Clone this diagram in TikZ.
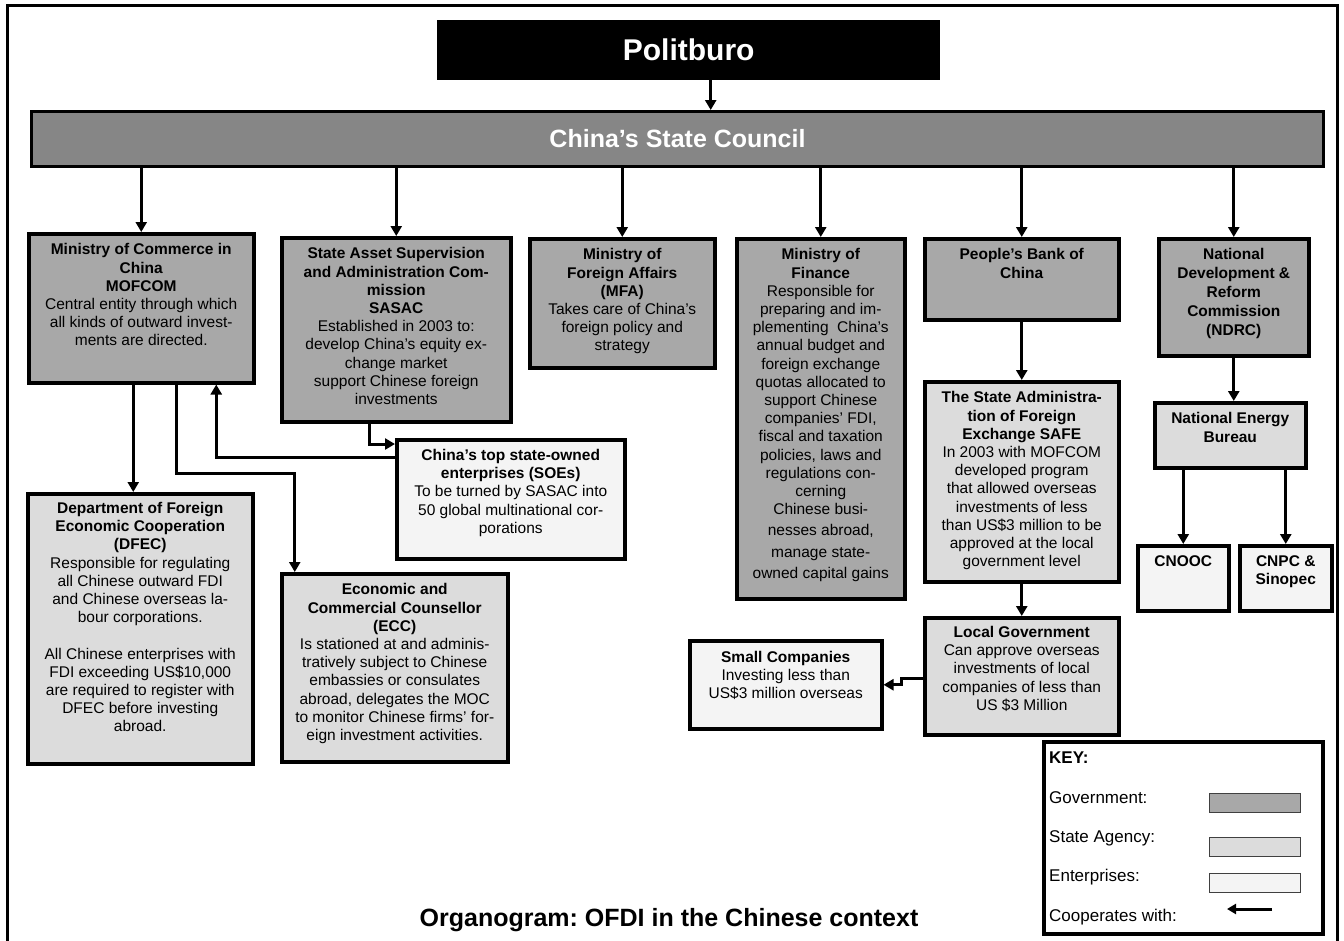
\documentclass[tikz,border=0pt]{standalone}
\usepackage{fontspec}
\setmainfont{Liberation Sans}
\usetikzlibrary{arrows.meta,positioning}
\frenchspacing
\definecolor{govgray}{RGB}{168,168,168}
\definecolor{councilgray}{RGB}{134,134,134}
\definecolor{agencygray}{RGB}{220,220,220}
\definecolor{firmgray}{RGB}{244,244,244}
\tikzset{
  gov/.style={draw, line width=3.5pt, fill=govgray, anchor=north west, inner sep=0pt},
  agency/.style={gov, fill=agencygray},
  firm/.style={gov, fill=firmgray},
  txt/.style={align=center, inner sep=0pt, font=\fontsize{15.5}{18.2}\selectfont},
  link/.style={line width=3pt, -{Triangle[length=10pt,width=11pt]}},
  keytxt/.style={anchor=west, inner sep=0pt, font=\fontsize{17}{19}\selectfont},
  swatch/.style={draw=black!75, line width=1.3pt, anchor=north west, minimum width=91pt, minimum height=19pt, inner sep=0pt},
}

\begin{document}
\begin{tikzpicture}[x=1pt, y=-1pt]
\useasboundingbox (0,0) rectangle (1344,940);
\draw[line width=3pt] (7,950) -- (7,5) -- (1337,5) -- (1337,950);

% top of the chart
\node[fill=black, anchor=north west, minimum width=503pt, minimum height=60pt, text=white, font=\bfseries\fontsize{30}{32}\selectfont] (politburo) at (437,20) {Politburo};
\node[gov, fill=councilgray, line width=3pt, minimum width=1292pt, minimum height=55pt, text=white, font=\bfseries\fontsize{25}{28}\selectfont] (council) at (30,110) {China’s State Council};

% government
\node[gov, minimum width=225pt, minimum height=149pt] (mofcom) at (27,232) {};
\node[gov, minimum width=229pt, minimum height=184pt] (sasac) at (280,236) {};
\node[gov, minimum width=185pt, minimum height=129pt] (mfa) at (528,237) {};
\node[gov, minimum width=168pt, minimum height=360pt] (mof) at (735,237) {};
\node[gov, minimum width=194pt, minimum height=81pt] (pboc) at (923,237) {};
\node[gov, minimum width=150pt, minimum height=117pt] (ndrc) at (1157,237) {};

% state agencies
\node[agency, minimum width=194pt, minimum height=200pt] (safe) at (923,380) {};
\node[agency, minimum width=194pt, minimum height=117pt] (localgov) at (923,616) {};
\node[agency, minimum width=151pt, minimum height=65pt] (neb) at (1153,401) {};
\node[agency, minimum width=225pt, minimum height=270pt] (dfec) at (26,492) {};
\node[agency, minimum width=226pt, minimum height=188pt] (ecc) at (280,572) {};

% enterprises
\node[firm, minimum width=228pt, minimum height=119pt] (soe) at (395,438) {};
\node[firm, minimum width=192pt, minimum height=88pt] (small) at (688,639) {};
\node[firm, minimum width=91pt, minimum height=65pt] (cnooc) at (1136,544) {};
\node[firm, minimum width=92pt, minimum height=65pt] (cnpc) at (1238,544) {};

% box texts
\node[txt, below=11.5pt of mofcom.north] (mofcomtxt) {\textbf{Ministry of Commerce in}\\\textbf{China}\\\textbf{MOFCOM}\\Central entity through which\\all kinds of outward invest-\\ments are directed.};
\node[txt, below=11.5pt of sasac.north] (sasactxt) {\textbf{State Asset Supervision}\\\textbf{and Administration Com-}\\\textbf{mission}\\\textbf{SASAC}\\Established in 2003 to:\\develop China's equity ex-\\change market\\support Chinese foreign\\investments};
\node[txt, below=11.5pt of mfa.north] (mfatxt) {\textbf{Ministry of}\\\textbf{Foreign Affairs}\\\textbf{(MFA)}\\Takes care of China’s\\foreign policy and\\strategy};
\node[txt, below=11.5pt of mof.north] (moftxt) {\textbf{Ministry of}\\\textbf{Finance}\\Responsible for\\preparing and im-\\plementing\ \ China’s\\annual budget and\\foreign exchange\\quotas allocated to\\support Chinese\\companies’ FDI,\\fiscal and taxation\\policies, laws and\\regulations con-\\cerning\\Chinese busi-\\[3pt]nesses abroad,\\[3pt]manage state-\\[3pt]owned capital gains};
\node[txt, below=11.5pt of pboc.north] (pboctxt) {\textbf{People’s Bank of}\\\textbf{China}};
\node[txt, below=11.5pt of ndrc.north, font=\bfseries\fontsize{15.5}{19}\selectfont] (ndrctxt) {National\\Development \&\\Reform\\Commission\\(NDRC)};
\node[txt, below=11.5pt of safe.north] (safetxt) {\textbf{The State Administra-}\\\textbf{tion of Foreign}\\\textbf{Exchange SAFE}\\In 2003 with MOFCOM\\developed program\\that allowed overseas\\investments of less\\than US\$3 million to be\\approved at the local\\government level};
\node[txt, below=10pt of localgov.north] (localgovtxt) {\textbf{Local Government}\\Can approve overseas\\investments of local\\companies of less than\\US \$3 Million};
\node[txt, below=11.5pt of neb.north] (nebtxt) {\textbf{National Energy}\\\textbf{Bureau}};
\node[txt, below=10pt of dfec.north] (dfectxt) {\textbf{Department of Foreign}\\\textbf{Economic Cooperation}\\\textbf{(DFEC)}\\Responsible for regulating\\all Chinese outward FDI\\and Chinese overseas la-\\bour corporations.\\[18.2pt]All Chinese enterprises with\\FDI exceeding US\$10,000\\are required to register with\\DFEC before investing\\abroad.};
\node[txt, below=11.5pt of ecc.north] (ecctxt) {\textbf{Economic and}\\\textbf{Commercial Counsellor}\\\textbf{(ECC)}\\Is stationed at and adminis-\\tratively subject to Chinese\\embassies or consulates\\abroad, delegates the MOC\\to monitor Chinese firms’ for-\\eign investment activities.};
\node[txt, below=11pt of soe.north] (soetxt) {\textbf{China’s top state-owned}\\\textbf{enterprises (SOEs)}\\To be turned by SASAC into\\50 global multinational cor-\\porations};
\node[txt, below=12pt of small.north] (smalltxt) {\textbf{Small Companies}\\Investing less than\\US\$3 million overseas};
\node[txt, below=11.5pt of cnooc.north] (cnooctxt) {\textbf{CNOOC}};
\node[txt, below=11.5pt of cnpc.north] (cnpctxt) {\textbf{CNPC \&}\\\textbf{Sinopec}};

% lines of command
\draw[link] ([xshift=22pt]politburo.south) -- ([xshift=22pt]politburo.south |- council.north);
\foreach \n in {mofcom,sasac,mfa,mof,pboc,ndrc}
  \draw[link] (council.south -| \n.north) -- (\n.north);
\draw[link] (pboc.south) -- (safe.north);
\draw[link] (safe.south) -- (localgov.north);
\draw[link] (ndrc.south) -- (ndrc.south |- neb.north);
\draw[link] (neb.south -| cnooc.north) -- (cnooc.north);
\draw[link] (neb.south -| cnpc.north) -- (cnpc.north);
\draw[link] ([xshift=-8pt]mofcom.south) -- ([xshift=-8pt]mofcom.south |- dfec.north);
\coordinate (eccin) at ([xshift=-100pt]ecc.north);
\draw[link] ([xshift=35pt]mofcom.south) -- ++(0,89) -| (eccin);
\draw[link] ([xshift=-27pt]sasac.south) |- ([yshift=-6pt]soe.north west);
\draw[link] ([yshift=-19pt]soe.north west) -| ([xshift=75pt]mofcom.south);
\draw[link] ([yshift=-2pt]localgov.west) -- ++(-22,0) |- (small.east);

% key
\node[draw, line width=3.5pt, fill=white, anchor=north west, minimum width=279pt, minimum height=192pt] (key) at (1042,740) {};
\node[keytxt, font=\bfseries\fontsize{17}{19}\selectfont] (keytitle) at (1049,758) {KEY:};
\node[keytxt] (keygovtxt) at (1049,798) {Government:};
\node[keytxt] (keyagencytxt) at (1049,838) {State Agency:};
\node[keytxt] (keyfirmtxt) at (1049,877) {Enterprises:};
\node[keytxt] (keycooptxt) at (1049,917) {Cooperates with:};
\node[swatch, fill=govgray] (keygov) at (1209,793) {};
\node[swatch, fill=agencygray] (keyagency) at (1209,837) {};
\node[swatch, fill=firmgray] (keyfirm) at (1209,873) {};
\coordinate (coopfrom) at (1272,909);
\coordinate (coopto) at (1227,909);
\draw[line width=3pt, -{Triangle[length=9pt,width=10pt]}] (coopfrom) -- (coopto);

\node[font=\bfseries\fontsize{25}{28}\selectfont] (title) at (669,920) {Organogram: OFDI in the Chinese context};
\end{tikzpicture}
\end{document}
